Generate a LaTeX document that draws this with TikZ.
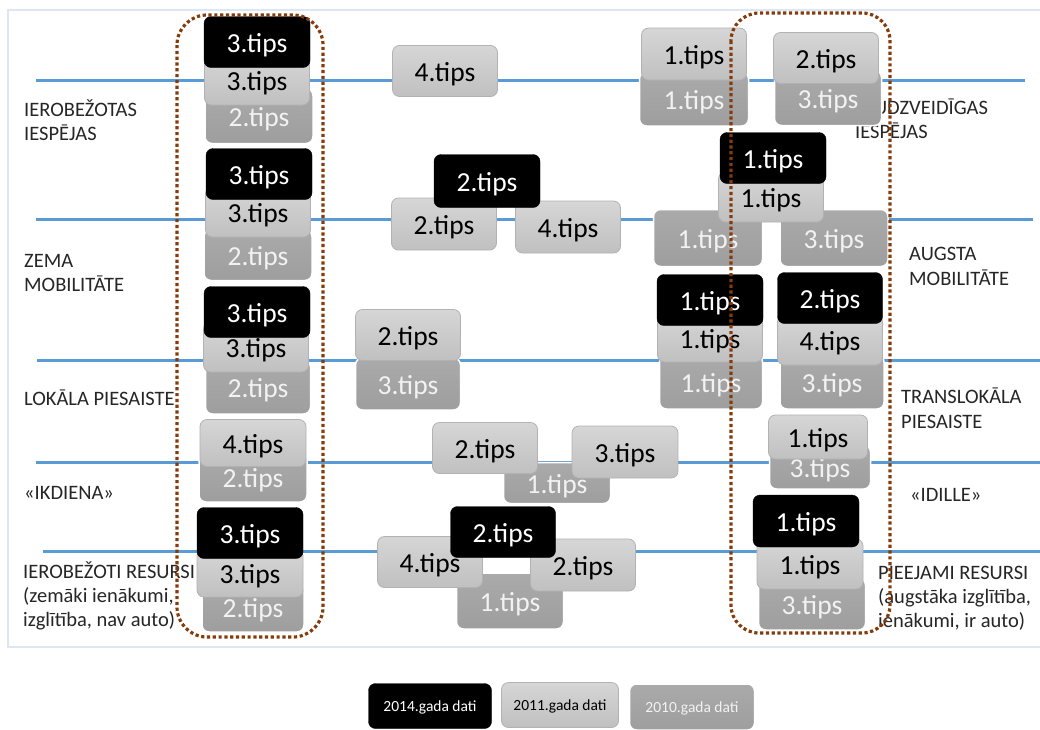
\documentclass[tikz,border=0pt]{standalone}
\usepackage{fontspec}
\setmainfont{Carlito}
\definecolor{blueline}{RGB}{91,155,213}
\definecolor{gA}{RGB}{214,214,214}
\definecolor{gB}{RGB}{192,192,192}
\definecolor{gLine}{RGB}{178,178,178}
\definecolor{dA}{RGB}{170,170,170}
\definecolor{dB}{RGB}{158,158,158}
\definecolor{dText}{RGB}{242,242,242}
\definecolor{brownd}{RGB}{132,60,12}
\definecolor{framec}{RGB}{220,231,243}
\tikzset{
  box/.style={rounded corners=7pt, minimum width=106pt, minimum height=51pt, inner sep=0pt,
    text height=20pt, text depth=0pt, font=\fontsize{27.5}{28}\selectfont},
  y14/.style={box, fill=black, draw=black, text=white},
  y11/.style={box, top color=gA, bottom color=gB, draw=gLine, line width=0.8pt, text=black},
  y10/.style={box, top color=dA, bottom color=dB, draw=white, line width=1.5pt, text=dText},
  leg/.style={font=\fontsize{15.5}{16}\selectfont, text height=11pt, minimum height=45pt},
  hline/.style={draw=blueline, line width=3pt},
  lab/.style={anchor=base west, inner sep=0pt, font=\fontsize{20.5}{24}\selectfont, text=black!85},
  dotbox/.style={draw=brownd, line width=3.2pt, dash pattern=on 3.2pt off 2.6pt}
}
\begin{document}
\begin{tikzpicture}[x=1pt,y=-1pt]
\useasboundingbox (0,0) rectangle (1040,729);
\fill[white] (0,0) rectangle (1040,729);
\draw[framec, line width=1.5pt] (8,10) rectangle (1042,647);
% horizontal lines
\draw[hline] (36,80) -- (1025,80);
\draw[hline] (36,219) -- (1033,219);
\draw[hline] (37,360) -- (1040,360);
\draw[hline] (36,462) -- (1040,462);
\draw[hline] (43,551) -- (1040,551);
% left labels
\node[lab] (ll1a) at (24,116) {IEROBEŽOTAS};
\node[lab] (ll1b) at (24,140) {IESPĒJAS};
\node[lab] (ll2a) at (24,267) {ZEMA};
\node[lab] (ll2b) at (24,291) {MOBILITĀTE};
\node[lab] (ll3a) at (24,405) {LOKĀLA PIESAISTE};
\node[lab] (ll4a) at (24,499) {«IKDIENA»};
\node[lab] (ll5a) at (23,578) {IEROBEŽOTI RESURSI};
\node[lab] (ll5b) at (23,602) {(zemāki ienākumi,};
\node[lab] (ll5c) at (23,626) {izglītība, nav auto)};
% right labels
\node[lab] (rl1a) at (850,114) {DAUDZVEIDĪGAS};
\node[lab] (rl1b) at (855,138) {IESPĒJAS};
\node[lab] (rl2a) at (909,260) {AUGSTA};
\node[lab] (rl2b) at (909,285) {MOBILITĀTE};
\node[lab] (rl3a) at (901,403) {TRANSLOKĀLA};
\node[lab] (rl3b) at (901,428) {PIESAISTE};
\node[lab] (rl4a) at (910,501) {«IDILLE»};
\node[lab] (rl5a) at (878,579) {PIEEJAMI RESURSI};
\node[lab] (rl5b) at (878,603) {(augstāka izglītība,};
\node[lab] (rl5c) at (878,627) {ienākumi, ir auto)};
% left column
\node[y10, minimum width=108pt, minimum height=55pt] (l1c) at (259,116) {2.tips};
\node[y11, minimum width=105pt, minimum height=50pt] (l1b) at (257,80) {3.tips};
\node[y14] (l1a) at (257,42) {3.tips};
\node[y10, minimum width=108pt] (l2c) at (258,255) {2.tips};
\node[y11, minimum width=105pt, minimum height=50pt] (l2b) at (258,212) {3.tips};
\node[y14] (l2a) at (259,174) {3.tips};
\node[y10, minimum width=105pt, minimum height=54pt] (l3c) at (258,387) {2.tips};
\node[y11, minimum width=105pt, minimum height=50pt] (l3b) at (256,347) {3.tips};
\node[y14] (l3a) at (257,312) {3.tips};
\node[y10, minimum width=108pt, minimum height=50pt] (l4c) at (253,477) {2.tips};
\node[y11, minimum width=106pt, minimum height=47pt] (l4b) at (253,443) {4.tips};
\node[y10, minimum width=102pt, minimum height=50pt] (l5c) at (253,607) {2.tips};
\node[y11, minimum width=106pt, minimum height=48pt] (l5b) at (250,573) {3.tips};
\node[y14] (l5a) at (250,533) {3.tips};
% middle
\node[y11, minimum width=105pt] (m1b) at (445,71) {4.tips};
\node[y11, minimum width=105pt, minimum height=52pt] (m2b) at (444,224) {2.tips};
\node[y11, minimum width=105pt, minimum height=52pt] (m2d) at (568,227) {4.tips};
\node[y14, minimum height=53pt] (m2a) at (487,181) {2.tips};
\node[y10, minimum width=105pt, minimum height=52pt] (m3c) at (408,384) {3.tips};
\node[y11, minimum width=105pt] (m3b) at (408,335) {2.tips};
\node[y10, minimum width=107pt, minimum height=41pt] (m4c) at (557,483) {1.tips};
\node[y11, minimum width=105pt] (m4b) at (485,448) {2.tips};
\node[y11, minimum width=106pt, minimum height=52pt] (m4d) at (625,452) {3.tips};
\node[y10, minimum width=107pt, minimum height=56pt] (m5c) at (510,601) {1.tips};
\node[y11, minimum width=105pt] (m5b) at (430,562) {4.tips};
\node[y11, minimum width=105pt, minimum height=52pt] (m5d) at (583,565) {2.tips};
\node[y14, minimum width=105pt] (m5a) at (503,532) {2.tips};
% right
\node[y10, minimum width=109pt, minimum height=54pt] (r1c) at (694,99) {1.tips};
\node[y11, minimum width=105pt, minimum height=52pt] (r1b) at (694,54) {1.tips};
\node[y10, minimum width=107pt, minimum height=55pt] (r1d) at (828,98) {3.tips};
\node[y11, minimum width=105pt] (r1e) at (826,58) {2.tips};
\node[y10, minimum width=109pt, minimum height=57pt] (r2c) at (708,238) {1.tips};
\node[y10, minimum width=108pt, minimum height=57pt] (r2d) at (834,238) {3.tips};
\node[y11, minimum width=105pt, minimum height=50pt] (r2b) at (771,197) {1.tips};
\node[y14] (r2a) at (773,158) {1.tips};
\node[y10, minimum width=103pt, minimum height=54pt] (r3c) at (711,382) {1.tips};
\node[y10, minimum width=104pt, minimum height=54pt] (r3d) at (832,382) {3.tips};
\node[y11, minimum width=105pt, minimum height=48pt] (r3b) at (710,338) {1.tips};
\node[y11, minimum width=105pt, minimum height=50pt] (r3e) at (830,340) {4.tips};
\node[y14] (r3a) at (710,300) {1.tips};
\node[y14, minimum width=105pt] (r3f) at (830,298) {2.tips};
\node[y10, minimum width=101pt, minimum height=44pt] (r4c) at (820,467) {3.tips};
\node[y11, minimum width=99pt, minimum height=44pt] (r4b) at (818,437) {1.tips};
\node[y10, minimum width=107pt, minimum height=52pt] (r5c) at (812,604) {3.tips};
\node[y11, minimum width=106pt, minimum height=50pt] (r5b) at (810,564) {1.tips};
\node[y14, minimum height=52pt] (r5a) at (806,521) {1.tips};
% dotted frames
\draw[dotbox, rounded corners=30pt] (177,15) rectangle (323,637);
\draw[dotbox, rounded corners=28pt] (731,13) rectangle (890,633);
% legend
\node[y14, leg, minimum width=123pt] (g14) at (430,706) {2014.gada dati};
\node[y11, leg, minimum width=117pt] (g11) at (560,705) {2011.gada dati};
\node[y10, leg, minimum width=125pt, minimum height=46pt] (g10) at (692,707) {2010.gada dati};
\end{tikzpicture}
\end{document}
